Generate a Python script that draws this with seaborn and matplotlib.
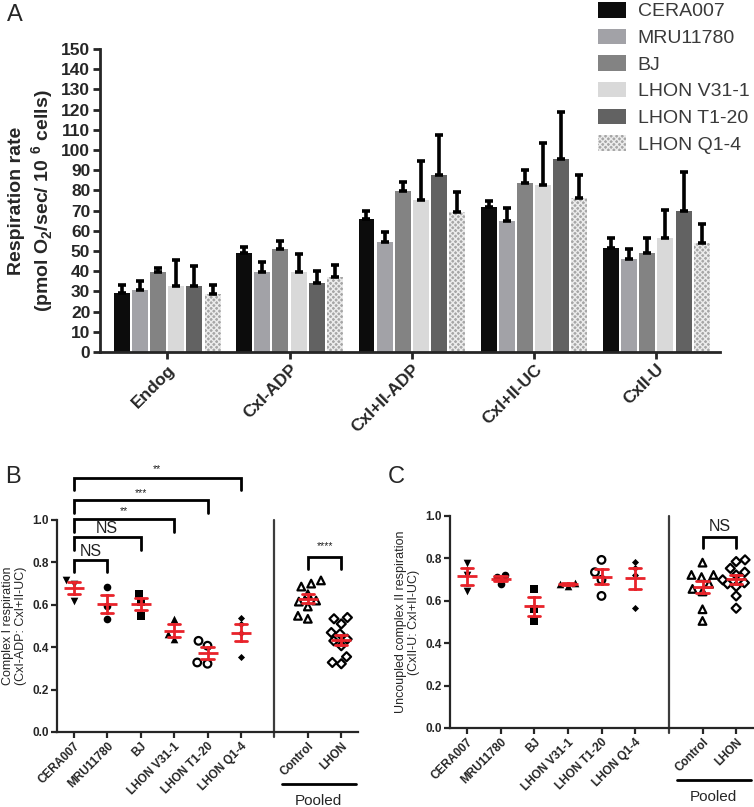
import numpy as np
import pandas as pd
import matplotlib
matplotlib.use("Agg")
import matplotlib.pyplot as plt
from matplotlib.patches import Patch
from matplotlib.colors import to_rgb
import seaborn as sns

# ---------------- data ----------------
conditions = ["Endog", "CxI-ADP", "CxI+II-ADP", "CxI+II-UC", "CxII-U"]
cell_lines = ["CERA007", "MRU11780", "BJ", "LHON V31-1", "LHON T1-20", "LHON Q1-4"]

# Panel A: respiration rate means and SEM per cell line (one value per condition)
rate_cera007 = [29.3, 48.8, 65.8, 71.6, 51.6]
rate_mru11780 = [30.6, 39.5, 54.4, 64.8, 45.8]
rate_bj = [39.5, 50.9, 79.9, 83.5, 48.8]
rate_v31 = [32.7, 39.5, 75.2, 82.5, 56.2]
rate_t120 = [32.9, 34.1, 87.6, 95.7, 69.8]
rate_q14 = [28.9, 36.9, 69.3, 76.2, 54.1]

sem_cera007 = [3.8, 3.3, 4.2, 3.1, 4.6]
sem_mru11780 = [4.5, 5.2, 5.1, 6.3, 5.1]
sem_bj = [2.2, 4.2, 4.1, 6.6, 7.4]
sem_v31 = [12.8, 8.8, 19.4, 20.9, 14.1]
sem_t120 = [9.8, 6.1, 19.6, 23.0, 19.2]
sem_q14 = [4.5, 6.4, 9.9, 11.4, 9.1]

# Panel B: complex I respiration ratio (CxI-ADP : CxI+II-UC), individual replicates
ci_cera007 = [0.715, 0.700, 0.620]
ci_mru11780 = [0.686, 0.592, 0.534]
ci_bj = [0.650, 0.615, 0.548]
ci_v31 = [0.534, 0.463, 0.438]
ci_t120 = [0.430, 0.407, 0.328, 0.322]
ci_q14 = [0.540, 0.510, 0.469, 0.355]

# Panel C: uncoupled complex II ratio (CxII-U : CxI+II-UC), individual replicates
cii_cera007 = [0.780, 0.722, 0.644]
cii_mru11780 = [0.722, 0.712, 0.680]
cii_bj = [0.656, 0.560, 0.505]
cii_v31 = [0.685, 0.680, 0.668]
cii_t120 = [0.793, 0.735, 0.699, 0.623]
cii_q14 = [0.785, 0.753, 0.722, 0.565]

control_lines = ["CERA007", "MRU11780", "BJ"]
lhon_lines = ["LHON V31-1", "LHON T1-20", "LHON Q1-4"]
pooled_labels = ["Control", "LHON"]

# ---------------- style ----------------
sns.set_style("ticks")
plt.rcParams["font.family"] = ["Liberation Sans", "DejaVu Sans"]
plt.rcParams["mathtext.fontset"] = "custom"
plt.rcParams["mathtext.rm"] = "Liberation Sans"
plt.rcParams["mathtext.bf"] = "Liberation Sans:bold"
plt.rcParams["hatch.linewidth"] = 1.0

line_colors = {
    "CERA007": "#0c0c0c",
    "MRU11780": "#a2a2a7",
    "BJ": "#838383",
    "LHON V31-1": "#d9d9d9",
    "LHON T1-20": "#626262",
    "LHON Q1-4": "#a6a6a6",
}
hatch_col = "#ececec"

fig = plt.figure(figsize=(7.54, 8.07), dpi=100)
W, H = 754.0, 807.0


def ax_rect(left, right, top, bottom):
    return [left / W, 1 - bottom / H, (right - left) / W, (bottom - top) / H]


# ---------------- Panel A ----------------
axA = fig.add_axes(ax_rect(100, 720, 49, 352))
rates = [rate_cera007, rate_mru11780, rate_bj, rate_v31, rate_t120, rate_q14]
sems = [sem_cera007, sem_mru11780, sem_bj, sem_v31, sem_t120, sem_q14]
rowsA = []
for line, r, s in zip(cell_lines, rates, sems):
    for c, rv, sv in zip(conditions, r, s):
        rowsA.append({"condition": c, "line": line, "rate": rv, "err": sv})
dfA = pd.DataFrame(rowsA)

sns.barplot(data=dfA, x="condition", y="rate", hue="line", order=conditions,
            hue_order=cell_lines, palette=line_colors, errorbar=None,
            width=0.89, gap=0.12, saturation=1, linewidth=0, legend=False, ax=axA)

color_to_line = {to_rgb(v): k for k, v in line_colors.items()}
for p in list(axA.patches):
    fc = tuple(p.get_facecolor()[:3])
    line = None
    for rgb, name in color_to_line.items():
        if np.allclose(fc, rgb, atol=2e-3):
            line = name
    if line is None:
        continue
    xc = p.get_x() + p.get_width() / 2
    cond = conditions[int(round(xc))]
    row = dfA[(dfA["line"] == line) & (dfA["condition"] == cond)].iloc[0]
    axA.errorbar([xc], [row["rate"]], yerr=[[0.0], [row["err"]]], fmt="none",
                 ecolor="black", elinewidth=2.6, capsize=2.6, capthick=2.6, zorder=1)
    if line == "LHON Q1-4":
        p.set_hatch("xxxxxx")
        p.set_edgecolor(hatch_col)
        p.set_linewidth(0)

axA.set_ylim(0, 150)
axA.set_xlim(-0.55, 4.52)
axA.set_yticks(np.arange(0, 151, 10))
axA.set_xlabel("")
axA.set_ylabel("Respiration rate\n(pmol O$_\\mathbf{2}$/sec/ 10 $^\\mathbf{6}$ cells)",
               fontsize=14, fontweight="bold", labelpad=4, linespacing=1.2)
sns.despine(ax=axA)
for sp in ["left", "bottom"]:
    axA.spines[sp].set_linewidth(2)
axA.tick_params(axis="both", width=2, length=5, labelsize=12.5, pad=2)
for lbl in axA.get_yticklabels():
    lbl.set_fontweight("bold")
axA.set_xticks(range(len(conditions)))
axA.set_xticklabels(conditions, rotation=45, ha="right", rotation_mode="anchor",
                    fontweight="bold", fontsize=12.5)

handles = []
for line in cell_lines:
    if line == "LHON Q1-4":
        handles.append(Patch(facecolor=line_colors[line], edgecolor=hatch_col,
                             hatch="xxxxxx", linewidth=0))
    else:
        handles.append(Patch(facecolor=line_colors[line], linewidth=0))
fig.legend(handles, cell_lines, loc="upper left", bbox_to_anchor=(598 / W, 1 - 2 / H),
           frameon=False, fontsize=14, handlelength=1.45, handleheight=0.85,
           handletextpad=0.6, labelspacing=0.42, borderaxespad=0, borderpad=0,
           labelcolor="#3a3a3a")

fig.text(7 / W, 1 - 4 / H, "A", fontsize=17, va="top", ha="left")

# ---------------- Panels B & C ----------------
markers = {
    "CERA007": ("v", True, 5.5),
    "MRU11780": ("o", True, 5.5),
    "BJ": ("s", True, 5.5),
    "LHON V31-1": ("^", True, 5.5),
    "LHON T1-20": ("o", False, 5.5),
    "LHON Q1-4": ("D", True, 3.6),
    "Control": ("^", False, 5.5),
    "LHON": ("D", False, 4.6),
}
order = cell_lines + [" "] + pooled_labels
red = "#e8232a"


def bracket(ax, x1, x2, y, drop, text, fs, ty):
    ax.plot([x1, x1, x2, x2], [y - drop, y, y, y - drop], color="black", lw=2,
            clip_on=False, solid_joinstyle="miter")
    ax.text((x1 + x2) / 2, ty, text, ha="center", va="center", fontsize=fs,
            clip_on=False, color="#202020")


def scatter_panel(ax, vals, ylabel):
    rows = []
    for line, v in zip(cell_lines, vals):
        for x in v:
            rows.append({"group": line, "value": x})
    for line, v in zip(cell_lines, vals):
        for x in v:
            rows.append({"group": "Control" if line in control_lines else "LHON", "value": x})
    df = pd.DataFrame(rows)

    for g in cell_lines + pooled_labels:
        m, filled, sz = markers[g]
        sub = df[df["group"] == g]
        n_before = len(ax.collections)
        sns.swarmplot(data=sub, x="group", y="value", order=order, marker=m,
                      color="black", size=sz, linewidth=0, ax=ax, zorder=2)
        if not filled:
            for coll in ax.collections[n_before:]:
                coll.set_facecolor("none")
                coll.set_edgecolor("black")
                coll.set_linewidth(1.6)

    sns.pointplot(data=df, x="group", y="value", order=order, errorbar="se",
                  color=red, marker="_", markersize=15, markeredgewidth=2,
                  linestyle="none", capsize=0.36, err_kws={"linewidth": 2}, ax=ax)

    ax.set_xlim(-0.5, 8.5)
    ax.set_ylim(0, 1.0)
    ax.set_yticks(np.arange(0, 1.01, 0.2))
    ax.set_yticklabels([f"{t:.1f}" for t in np.arange(0, 1.01, 0.2)], fontweight="bold",
                       fontsize=8.5)
    ticks = list(range(6)) + [7, 8]
    ax.set_xticks(ticks)
    ax.set_xticklabels(cell_lines + pooled_labels, rotation=45, ha="right",
                       rotation_mode="anchor", fontweight="bold", fontsize=8.5)
    ax.set_xlabel("")
    ax.set_ylabel(ylabel, fontsize=9, labelpad=4, linespacing=1.1)
    sns.despine(ax=ax)
    for sp in ["left", "bottom"]:
        ax.spines[sp].set_linewidth(1.6)
    ax.tick_params(axis="both", width=1.6, length=4, pad=2)
    ax.axvline(6, ymin=-0.025, ymax=1.0, color="#3c3c3c", lw=1.6, clip_on=False)
    ax.plot([6.24, 8.44], [-0.245, -0.245], color="black", lw=2, clip_on=False)
    ax.text(7.32, -0.325, "Pooled", ha="center", va="center", fontsize=11)


axB = fig.add_axes(ax_rect(57, 358, 520, 732))
scatter_panel(axB, [ci_cera007, ci_mru11780, ci_bj, ci_v31, ci_t120, ci_q14],
              "Complex I respiration\n(CxI-ADP: CxI+II-UC)")
bracket(axB, 0, 5, 1.197, 0.055, "**", 7.5, 1.238)
bracket(axB, 0, 4, 1.094, 0.06, "***", 7.5, 1.128)
bracket(axB, 0, 3, 1.005, 0.06, "**", 7.5, 1.04)
bracket(axB, 0, 2, 0.918, 0.06, "NS", 11.5, 0.958)
bracket(axB, 0, 1, 0.811, 0.055, "NS", 11.5, 0.852)
bracket(axB, 7, 8, 0.827, 0.058, "****", 7.5, 0.878)

axC = fig.add_axes(ax_rect(450, 753, 516, 728))
scatter_panel(axC, [cii_cera007, cii_mru11780, cii_bj, cii_v31, cii_t120, cii_q14],
              "Uncoupled complex II respiration\n(CxII-U: CxI+II-UC)")
bracket(axC, 7, 8, 0.902, 0.055, "NS", 11.5, 0.95)

fig.text(5 / W, 1 - 466 / H, "B", fontsize=17, va="top", ha="left")
fig.text(388 / W, 1 - 466 / H, "C", fontsize=17, va="top", ha="left")

fig.savefig("out.png", dpi=100)
